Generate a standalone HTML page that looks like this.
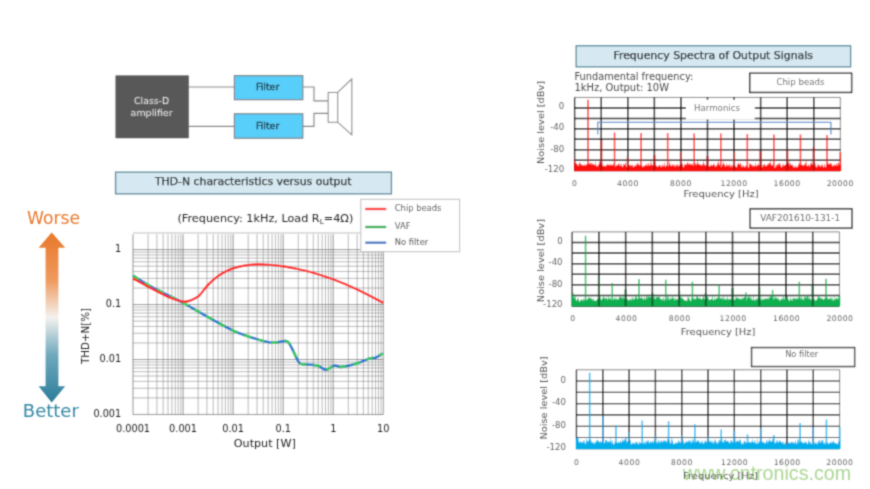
<!DOCTYPE html>
<html><head><meta charset="utf-8"><title>THD-N and frequency spectra</title>
<style>
html,body{margin:0;padding:0;background:#fff;}
body{width:870px;height:489px;overflow:hidden;}
svg{display:block;font-family:"DejaVu Sans", "Liberation Sans", sans-serif;}
</style></head><body>
<svg width="870" height="489" viewBox="0 0 870 489">
<defs>
<linearGradient id="ag" x1="0" y1="0" x2="0" y2="1">
<stop offset="0" stop-color="#e8772a"/><stop offset="0.28" stop-color="#ee9a5e"/><stop offset="0.5" stop-color="#f4f1ee"/><stop offset="0.72" stop-color="#6fa9bd"/><stop offset="1" stop-color="#2c7d99"/>
</linearGradient>
<filter id="bl" x="-2%" y="-2%" width="104%" height="104%"><feConvolveMatrix order="5" kernelMatrix="0.00003 0.00101 0.00331 0.00101 0.00003 0.00101 0.03529 0.11525 0.03529 0.00101 0.00331 0.11525 0.37636 0.11525 0.00331 0.00101 0.03529 0.11525 0.03529 0.00101 0.00003 0.00101 0.00331 0.00101 0.00003" edgeMode="duplicate" preserveAlpha="false"/></filter>
</defs>
<rect width="870" height="489" fill="#fff"/>
<g filter="url(#bl)">

<g id="block">
<path d="M188.5 87H234.5M188.5 126.3H234.5M302.8 87H314V100.8H328.2M302.8 126.3H314V113.3H328.2" fill="none" stroke="#8a8a8a" stroke-width="1.15"/>
<rect x="115.5" y="75.4" width="73.3" height="62.8" fill="#595959"/>
<rect x="234.4" y="75.7" width="68.4" height="24.0" fill="#58cefa" stroke="#7d7d7d" stroke-width="1.1"/>
<rect x="234.4" y="113.8" width="68.4" height="24.4" fill="#58cefa" stroke="#7d7d7d" stroke-width="1.1"/>
<path d="M328.2 92.4H337.7V122.2H328.2ZM337.7 92.4L351.8 79V134.8L337.7 122.2" fill="#fff" stroke="#858585" stroke-width="1.05"/>
<text x="151.6" y="103.6" font-size="8.8" fill="#e6e6e6" text-anchor="middle" textLength="35" lengthAdjust="spacingAndGlyphs">Class-D</text>
<text x="151.6" y="115.5" font-size="8.8" fill="#e6e6e6" text-anchor="middle" textLength="42" lengthAdjust="spacingAndGlyphs">amplifier</text>
<text x="267.6" y="90.3" font-size="8.9" fill="#1f2a30" text-anchor="middle" textLength="23.4" lengthAdjust="spacingAndGlyphs" stroke="#1f2a30" stroke-width="0.3">Filter</text>
<text x="267.6" y="128.5" font-size="8.9" fill="#1f2a30" text-anchor="middle" textLength="23.4" lengthAdjust="spacingAndGlyphs" stroke="#1f2a30" stroke-width="0.3">Filter</text>
</g>
<rect x="115.6" y="172.2" width="275.8" height="21.6" fill="#d6e9f2" stroke="#5a899b" stroke-width="1.3"/>
<text x="253.2" y="185.3" font-size="10.9" fill="#141414" text-anchor="middle" textLength="196.5" lengthAdjust="spacingAndGlyphs" stroke="#141414" stroke-width="0.25">THD-N characteristics versus output</text>
<text x="177.5" y="222.0" font-size="10.6" fill="#262626" textLength="175.8" lengthAdjust="spacingAndGlyphs">(Frequency: 1kHz, Load R<tspan font-size="7" dy="2">L</tspan><tspan dy="-2">=4Ω)</tspan></text>
<path d="M51.7 232.5L65.2 247.8H58.4V386.2H65.2L51.7 402.5L38.6 386.2H45.6V247.8H38.6Z" fill="url(#ag)"/>
<text x="53.6" y="223.6" font-size="17.4" fill="#e8792e" text-anchor="middle" textLength="53" lengthAdjust="spacingAndGlyphs">Worse</text>
<text x="50.8" y="417.4" font-size="17.4" fill="#3488a4" text-anchor="middle" textLength="56" lengthAdjust="spacingAndGlyphs">Better</text>
<g id="thd">
<rect x="133.0" y="234.30" width="250.30" height="180.15" fill="#fff"/>
<path d="M148.07 234.30V414.45M156.88 234.30V414.45M163.14 234.30V414.45M167.99 234.30V414.45M171.95 234.30V414.45M175.31 234.30V414.45M178.21 234.30V414.45M180.77 234.30V414.45M198.13 234.30V414.45M206.94 234.30V414.45M213.20 234.30V414.45M218.05 234.30V414.45M222.01 234.30V414.45M225.37 234.30V414.45M228.27 234.30V414.45M230.83 234.30V414.45M248.19 234.30V414.45M257.00 234.30V414.45M263.26 234.30V414.45M268.11 234.30V414.45M272.07 234.30V414.45M275.43 234.30V414.45M278.33 234.30V414.45M280.89 234.30V414.45M298.25 234.30V414.45M307.06 234.30V414.45M313.32 234.30V414.45M318.17 234.30V414.45M322.13 234.30V414.45M325.49 234.30V414.45M328.39 234.30V414.45M330.95 234.30V414.45M348.31 234.30V414.45M357.12 234.30V414.45M363.38 234.30V414.45M368.23 234.30V414.45M372.19 234.30V414.45M375.55 234.30V414.45M378.45 234.30V414.45M381.01 234.30V414.45M133.00 397.91H383.30M133.00 388.23H383.30M133.00 381.37H383.30M133.00 376.04H383.30M133.00 371.69H383.30M133.00 368.01H383.30M133.00 364.83H383.30M133.00 362.01H383.30M133.00 342.96H383.30M133.00 333.28H383.30M133.00 326.42H383.30M133.00 321.09H383.30M133.00 316.74H383.30M133.00 313.06H383.30M133.00 309.88H383.30M133.00 307.06H383.30M133.00 288.01H383.30M133.00 278.33H383.30M133.00 271.47H383.30M133.00 266.14H383.30M133.00 261.79H383.30M133.00 258.11H383.30M133.00 254.93H383.30M133.00 252.11H383.30M133.00 233.06H383.30" stroke="#848484" stroke-width="0.58" fill="none"/>
<path d="M133.00 234.30V414.45M183.06 234.30V414.45M233.12 234.30V414.45M283.18 234.30V414.45M333.24 234.30V414.45M383.30 234.30V414.45M133.00 414.45H383.30M133.00 359.50H383.30M133.00 304.55H383.30M133.00 249.60H383.30" stroke="#6a6a6a" stroke-width="0.75" fill="none"/>
<text x="121.2" y="251.7" font-size="9.7" fill="#1c1c1c" text-anchor="end">1</text>
<text x="121.2" y="306.65000000000003" font-size="9.7" fill="#1c1c1c" text-anchor="end">0.1</text>
<text x="121.2" y="361.6" font-size="9.7" fill="#1c1c1c" text-anchor="end">0.01</text>
<text x="121.2" y="416.55000000000007" font-size="9.7" fill="#1c1c1c" text-anchor="end">0.001</text>
<text x="133.0" y="432.2" font-size="9.75" fill="#1c1c1c" text-anchor="middle">0.0001</text>
<text x="183.06" y="432.2" font-size="9.75" fill="#1c1c1c" text-anchor="middle">0.001</text>
<text x="233.12" y="432.2" font-size="9.75" fill="#1c1c1c" text-anchor="middle">0.01</text>
<text x="283.18" y="432.2" font-size="9.75" fill="#1c1c1c" text-anchor="middle">0.1</text>
<text x="333.24" y="432.2" font-size="9.75" fill="#1c1c1c" text-anchor="middle">1</text>
<text x="383.3" y="432.2" font-size="9.75" fill="#1c1c1c" text-anchor="middle">10</text>
<text x="264.8" y="447.4" font-size="11" fill="#1c1c1c" text-anchor="middle" textLength="62" lengthAdjust="spacingAndGlyphs">Output [W]</text>
<text transform="translate(88.6 336) rotate(-90)" font-size="10.2" fill="#1c1c1c" text-anchor="middle" textLength="56" lengthAdjust="spacingAndGlyphs">THD+N[%]</text>
<path d="M133.02 275.64C136.21 277.55 143.85 282.59 152.14 287.11C160.42 291.63 174.04 298.12 182.73 302.75C191.41 307.39 195.88 310.28 204.28 314.92C212.68 319.55 224.64 326.61 233.12 330.56C241.61 334.51 248.62 336.59 255.17 338.62C261.72 340.65 267.24 342.36 272.41 342.76C277.59 343.16 283.05 340.29 286.21 341.03C289.37 341.78 289.20 343.62 291.38 347.24C293.56 350.86 296.72 359.89 299.31 362.76C301.90 365.63 303.91 364.02 306.90 364.48C309.89 364.94 314.08 364.66 317.24 365.52C320.40 366.38 322.99 369.66 325.86 369.66C328.74 369.66 331.90 365.98 334.48 365.52C337.07 365.06 337.64 367.24 341.38 366.90C345.11 366.55 352.30 364.83 356.90 363.45C361.49 362.07 365.80 359.60 368.97 358.62C372.13 357.64 373.56 358.45 375.86 357.59C378.16 356.72 381.61 354.14 382.76 353.45" fill="none" stroke="#1c78cf" stroke-width="2.5" stroke-linejoin="round"/>
<path d="M133.02 275.64C136.21 277.55 143.85 282.59 152.14 287.11C160.42 291.63 174.04 298.12 182.73 302.75C191.41 307.39 195.88 310.28 204.28 314.92C212.68 319.55 224.64 326.61 233.12 330.56C241.61 334.51 248.62 336.59 255.17 338.62C261.72 340.65 267.24 342.36 272.41 342.76C277.59 343.16 283.05 340.29 286.21 341.03C289.37 341.78 289.20 343.62 291.38 347.24C293.56 350.86 296.72 359.89 299.31 362.76C301.90 365.63 303.91 364.02 306.90 364.48C309.89 364.94 314.08 364.66 317.24 365.52C320.40 366.38 322.99 369.66 325.86 369.66C328.74 369.66 331.90 365.98 334.48 365.52C337.07 365.06 337.64 367.24 341.38 366.90C345.11 366.55 352.30 364.83 356.90 363.45C361.49 362.07 365.80 359.60 368.97 358.62C372.13 357.64 373.56 358.45 375.86 357.59C378.16 356.72 381.61 354.14 382.76 353.45" fill="none" stroke="#2bcb58" stroke-width="2.5" stroke-dasharray="7 7" stroke-linejoin="round"/>
<path d="M133.00 278.40C136.18 280.13 146.02 285.62 152.10 288.80C158.18 291.98 164.35 295.37 169.50 297.50C174.65 299.63 179.58 301.08 183.00 301.60C186.42 302.12 187.40 301.52 190.00 300.60C192.60 299.68 195.63 298.68 198.60 296.10C201.57 293.52 204.73 288.32 207.80 285.10C210.87 281.88 213.93 279.10 217.00 276.80C220.07 274.50 223.13 272.83 226.20 271.30C229.27 269.77 232.10 268.58 235.40 267.60C238.70 266.62 241.90 265.93 246.00 265.40C250.10 264.87 253.75 264.25 260.00 264.40C266.25 264.55 275.42 265.12 283.50 266.30C291.58 267.48 300.15 269.30 308.50 271.50C316.85 273.70 325.48 276.50 333.60 279.50C341.72 282.50 348.92 285.62 357.20 289.50C365.48 293.38 378.95 300.58 383.30 302.80" fill="none" stroke="#ff1414" stroke-width="2.25" stroke-linejoin="round"/>
</g>
<rect x="360.8" y="199.3" width="98.8" height="52.4" fill="#fff" stroke="#c4c4c4" stroke-width="1.1"/>
<path d="M365.3 209H386.2" stroke="#ff1010" stroke-width="2.3"/>
<text x="394.8" y="210.8" font-size="8.35" fill="#444" text-anchor="start">Chip beads</text>
<path d="M365.3 227H386.2" stroke="#16ad45" stroke-width="2.3"/>
<text x="394.8" y="228.7" font-size="8.35" fill="#444" text-anchor="start">VAF</text>
<path d="M365.3 242.7H386.2" stroke="#3f77c4" stroke-width="2.3"/>
<text x="394.8" y="244.6" font-size="8.35" fill="#444" text-anchor="start">No filter</text>
<rect x="576.2" y="45.8" width="274.4" height="21" fill="#d6e9f2" stroke="#5a899b" stroke-width="1.3"/>
<text x="713.2" y="58.9" font-size="10.9" fill="#141414" text-anchor="middle" textLength="199.5" lengthAdjust="spacingAndGlyphs" stroke="#141414" stroke-width="0.25">Frequency Spectra of Output Signals</text>
<text x="574.5" y="79.8" font-size="9.8" fill="#4a4a4a" text-anchor="start" textLength="118.8" lengthAdjust="spacingAndGlyphs">Fundamental frequency:</text>
<text x="574.5" y="91.4" font-size="9.8" fill="#4a4a4a" text-anchor="start" textLength="94.5" lengthAdjust="spacingAndGlyphs">1kHz, Output: 10W</text>
<rect x="574.7" y="97.5" width="265.60" height="73.20" fill="#fff"/>
<path d="M574.7 97.5H840.3V170.7" stroke="#7d7d7d" stroke-width="0.95" fill="none"/>
<path d="M574.7 97.5V170.7H840.3" stroke="#151515" stroke-width="1.25" fill="none"/>
<path d="M574.7 107.96H840.3M574.7 118.41H840.3M574.7 128.87H840.3M574.7 139.33H840.3M574.7 149.79H840.3M574.7 160.24H840.3" stroke="#0d0d0d" stroke-width="1.5" fill="none"/>
<path d="M601.26 97.5V170.7M627.82 97.5V170.7M654.38 97.5V170.7M680.94 97.5V170.7M707.50 97.5V170.7M734.06 97.5V170.7M760.62 97.5V170.7M787.18 97.5V170.7M813.74 97.5V170.7" stroke="#0d0d0d" stroke-width="1.5" fill="none"/>
<path d="M574.2 170.89999999999998L574.20 155.09L574.70 159.68L575.20 162.68L575.71 161.71L576.21 163.16L576.71 163.56L577.21 165.78L577.71 164.32L578.22 164.09L578.72 166.90L579.22 162.82L579.72 162.47L580.22 162.57L580.73 164.78L581.23 164.44L581.73 164.42L582.23 165.90L582.74 164.35L583.24 165.78L583.74 164.90L584.24 164.93L584.74 164.67L585.25 163.88L585.75 166.38L586.25 164.39L586.75 164.22L587.25 164.74L587.76 163.20L588.26 163.86L588.76 164.02L589.26 162.73L589.76 164.58L590.27 163.78L590.77 162.47L591.27 162.72L591.77 165.23L592.27 163.02L592.78 164.79L593.28 164.00L593.78 164.14L594.28 164.42L594.78 165.35L595.29 165.67L595.79 161.05L596.29 167.01L596.79 165.02L597.30 166.69L597.80 165.73L598.30 165.16L598.80 163.69L599.30 160.76L599.81 163.66L600.31 162.71L600.81 165.23L601.31 166.01L601.81 162.10L602.32 163.84L602.82 166.08L603.32 165.44L603.82 166.55L604.32 165.47L604.83 166.12L605.33 165.41L605.83 165.89L606.33 164.25L606.83 166.95L607.34 163.58L607.84 164.60L608.34 164.49L608.84 165.25L609.35 165.18L609.85 164.41L610.35 164.34L610.85 164.75L611.35 164.99L611.86 164.98L612.36 165.74L612.86 164.04L613.36 163.62L613.86 166.00L614.37 163.59L614.87 164.81L615.37 166.47L615.87 166.62L616.37 165.24L616.88 165.28L617.38 164.78L617.88 164.72L618.38 164.80L618.88 162.78L619.39 163.95L619.89 166.15L620.39 166.21L620.89 163.94L621.39 163.61L621.90 165.92L622.40 166.64L622.90 166.51L623.40 164.15L623.91 163.87L624.41 165.29L624.91 164.44L625.41 161.67L625.91 164.48L626.42 166.48L626.92 167.42L627.42 163.64L627.92 165.40L628.42 163.68L628.93 164.85L629.43 165.65L629.93 164.49L630.43 164.61L630.93 166.67L631.44 165.26L631.94 165.16L632.44 164.09L632.94 167.53L633.44 166.62L633.95 166.37L634.45 166.27L634.95 165.27L635.45 166.62L635.95 163.23L636.46 166.17L636.96 164.06L637.46 162.79L637.96 163.14L638.47 163.90L638.97 165.66L639.47 164.42L639.97 165.18L640.47 166.15L640.98 162.19L641.48 165.22L641.98 165.06L642.48 166.60L642.98 167.38L643.49 165.77L643.99 166.57L644.49 165.36L644.99 165.87L645.49 164.50L646.00 166.55L646.50 163.58L647.00 165.37L647.50 166.19L648.00 163.28L648.51 163.22L649.01 164.85L649.51 165.49L650.01 165.72L650.51 164.35L651.02 160.23L651.52 164.57L652.02 166.05L652.52 164.18L653.03 165.68L653.53 164.63L654.03 167.37L654.53 163.54L655.03 162.62L655.54 163.29L656.04 164.70L656.54 166.30L657.04 166.09L657.54 166.70L658.05 166.60L658.55 166.39L659.05 164.28L659.55 165.28L660.05 166.62L660.56 164.76L661.06 166.58L661.56 167.66L662.06 164.59L662.56 164.59L663.07 166.78L663.57 166.06L664.07 165.61L664.57 161.51L665.07 166.79L665.58 166.82L666.08 165.06L666.58 165.01L667.08 165.17L667.59 165.68L668.09 165.64L668.59 166.85L669.09 164.87L669.59 160.71L670.10 165.99L670.60 163.66L671.10 166.00L671.60 166.20L672.10 164.03L672.61 164.39L673.11 166.02L673.61 164.96L674.11 163.95L674.61 167.15L675.12 165.01L675.62 165.64L676.12 167.02L676.62 164.22L677.12 165.16L677.63 163.28L678.13 166.28L678.63 165.95L679.13 164.87L679.64 164.48L680.14 166.83L680.64 166.49L681.14 167.74L681.64 167.32L682.15 164.41L682.65 162.52L683.15 167.47L683.65 166.90L684.15 163.69L684.66 165.17L685.16 165.28L685.66 163.49L686.16 165.80L686.66 163.89L687.17 162.51L687.67 162.52L688.17 162.86L688.67 164.98L689.17 163.93L689.68 163.51L690.18 165.31L690.68 163.10L691.18 165.24L691.68 163.91L692.19 165.11L692.69 163.12L693.19 166.49L693.69 165.56L694.20 164.90L694.70 165.98L695.20 162.45L695.70 164.32L696.20 165.47L696.71 163.93L697.21 161.38L697.71 161.44L698.21 163.76L698.71 164.55L699.22 163.48L699.72 164.44L700.22 165.26L700.72 164.70L701.22 164.42L701.73 165.70L702.23 163.47L702.73 166.75L703.23 161.16L703.73 161.74L704.24 165.32L704.74 163.64L705.24 164.81L705.74 166.62L706.24 163.26L706.75 165.59L707.25 163.51L707.75 164.15L708.25 164.36L708.76 166.63L709.26 165.84L709.76 166.16L710.26 166.49L710.76 164.49L711.27 165.90L711.77 163.89L712.27 165.64L712.77 165.58L713.27 164.81L713.78 163.35L714.28 166.07L714.78 163.60L715.28 166.61L715.78 166.85L716.29 165.18L716.79 166.28L717.29 162.56L717.79 164.51L718.29 161.05L718.80 162.55L719.30 166.07L719.80 163.74L720.30 167.61L720.80 166.17L721.31 167.16L721.81 167.33L722.31 164.89L722.81 164.37L723.32 160.97L723.82 164.64L724.32 164.10L724.82 164.54L725.32 166.18L725.83 166.86L726.33 165.34L726.83 162.67L727.33 166.53L727.83 165.12L728.34 166.09L728.84 164.55L729.34 163.51L729.84 167.06L730.34 166.69L730.85 164.96L731.35 168.07L731.85 163.99L732.35 164.95L732.85 167.19L733.36 168.27L733.86 168.11L734.36 165.97L734.86 167.72L735.36 165.95L735.87 165.51L736.37 167.37L736.87 167.29L737.37 163.80L737.88 164.35L738.38 162.49L738.88 163.84L739.38 163.89L739.88 165.24L740.39 163.03L740.89 162.73L741.39 166.21L741.89 167.34L742.39 167.25L742.90 164.77L743.40 165.99L743.90 166.34L744.40 167.60L744.90 166.12L745.41 167.51L745.91 165.35L746.41 164.42L746.91 166.43L747.41 163.07L747.92 167.31L748.42 168.10L748.92 166.20L749.42 164.16L749.93 162.69L750.43 164.18L750.93 164.63L751.43 165.16L751.93 163.55L752.44 165.89L752.94 167.06L753.44 164.53L753.94 166.59L754.44 165.68L754.95 165.91L755.45 161.41L755.95 166.82L756.45 164.93L756.95 166.51L757.46 165.02L757.96 164.47L758.46 163.43L758.96 166.86L759.46 164.85L759.97 165.30L760.47 165.56L760.97 164.67L761.47 165.99L761.97 167.16L762.48 167.36L762.98 163.73L763.48 165.65L763.98 164.48L764.49 163.98L764.99 164.59L765.49 166.51L765.99 165.40L766.49 166.36L767.00 164.14L767.50 163.78L768.00 166.15L768.50 163.59L769.00 163.36L769.51 163.14L770.01 162.37L770.51 160.64L771.01 165.65L771.51 165.55L772.02 163.46L772.52 165.49L773.02 166.00L773.52 164.34L774.02 167.97L774.53 167.83L775.03 168.23L775.53 166.94L776.03 164.69L776.53 164.77L777.04 166.90L777.54 163.49L778.04 165.00L778.54 162.94L779.05 165.98L779.55 162.95L780.05 163.24L780.55 164.74L781.05 167.03L781.56 167.49L782.06 165.36L782.56 165.70L783.06 162.67L783.56 166.39L784.07 165.52L784.57 165.23L785.07 165.05L785.57 163.64L786.07 166.38L786.58 163.33L787.08 165.79L787.58 163.44L788.08 162.50L788.58 163.95L789.09 159.62L789.59 165.57L790.09 165.21L790.59 163.01L791.09 164.38L791.60 165.21L792.10 165.05L792.60 164.52L793.10 165.83L793.61 167.34L794.11 167.16L794.61 167.75L795.11 164.47L795.61 166.89L796.12 166.60L796.62 167.90L797.12 166.03L797.62 167.22L798.12 165.51L798.63 163.15L799.13 166.04L799.63 162.61L800.13 163.51L800.63 163.69L801.14 164.65L801.64 164.44L802.14 165.78L802.64 164.42L803.14 165.05L803.65 165.79L804.15 165.28L804.65 163.61L805.15 164.91L805.65 162.58L806.16 160.54L806.66 165.90L807.16 165.48L807.66 166.16L808.17 164.91L808.67 163.95L809.17 165.24L809.67 167.07L810.17 164.17L810.68 164.04L811.18 161.30L811.68 163.64L812.18 164.28L812.68 164.68L813.19 165.81L813.69 163.85L814.19 164.03L814.69 166.89L815.19 161.99L815.70 165.88L816.20 167.50L816.70 165.95L817.20 167.81L817.70 163.15L818.21 164.55L818.71 166.29L819.21 164.37L819.71 165.66L820.22 165.73L820.72 167.25L821.22 165.27L821.72 164.59L822.22 164.16L822.73 166.27L823.23 167.07L823.73 167.63L824.23 162.92L824.73 165.41L825.24 167.30L825.74 166.81L826.24 163.77L826.74 164.55L827.24 160.93L827.75 164.10L828.25 163.45L828.75 163.92L829.25 163.28L829.75 164.91L830.26 162.53L830.76 164.05L831.26 163.51L831.76 163.62L832.26 165.38L832.77 166.16L833.27 165.56L833.77 165.66L834.27 163.19L834.78 166.07L835.28 164.73L835.78 165.73L836.28 162.85L836.78 165.90L837.29 166.01L837.79 162.89L838.29 163.59L838.79 162.06L839.29 165.73L839.80 164.61L840.30 164.34L840.80 164.96L840.8 170.89999999999998Z" fill="#ff0a0a"/>
<path d="M587.98 170.7V99.80M614.54 170.7V132.50M641.10 170.7V133.00M667.66 170.7V133.00M694.22 170.7V133.50M720.78 170.7V133.50M747.34 170.7V134.00M773.90 170.7V134.50M800.46 170.7V134.50M827.02 170.7V135.00M840.30 170.7V152.00" stroke="#ff0a0a" stroke-width="1.55" fill="none" stroke-opacity="0.85"/>
<path d="M601.26 170.7V140.00M627.82 170.7V157.00M654.38 170.7V155.00M680.94 170.7V152.00M707.50 170.7V156.00M734.06 170.7V152.00M760.62 170.7V151.00M787.18 170.7V150.00M813.74 170.7V147.00" stroke="#b80808" stroke-width="2.1" fill="none" stroke-opacity="0.9"/>
<rect x="685.8" y="99.7" width="69" height="19.9" fill="#fff"/>
<text x="717" y="111.4" font-size="8.6" fill="#666" text-anchor="middle" textLength="46" lengthAdjust="spacingAndGlyphs">Harmonics</text>
<path d="M597.7 134.5V122.3H830.9V134.5" fill="none" stroke="#5b90cf" stroke-width="1.25"/>
<rect x="749.8" y="73.3" width="101.8" height="19.1" fill="#fff" stroke="#2b2b2b" stroke-width="1.4"/>
<text x="800.4" y="84.8" font-size="8.6" fill="#666" text-anchor="middle" textLength="48" lengthAdjust="spacingAndGlyphs">Chip beads</text>
<text x="564.2" y="108.6" font-size="8.6" fill="#666" text-anchor="end">0</text>
<text x="564.2" y="130.1" font-size="8.6" fill="#666" text-anchor="end">-40</text>
<text x="564.2" y="151.5" font-size="8.6" fill="#666" text-anchor="end">-80</text>
<text x="564.2" y="172.2" font-size="8.6" fill="#666" text-anchor="end">-120</text>
<text x="574.5" y="186.0" font-size="7.7" fill="#666" text-anchor="middle">0</text>
<text x="627.6" y="186.0" font-size="7.7" fill="#666" text-anchor="middle" textLength="21.4" lengthAdjust="spacing">4000</text>
<text x="680.7" y="186.0" font-size="7.7" fill="#666" text-anchor="middle" textLength="21.4" lengthAdjust="spacing">8000</text>
<text x="733.8" y="186.0" font-size="7.7" fill="#666" text-anchor="middle" textLength="26.6" lengthAdjust="spacing">12000</text>
<text x="786.9" y="186.0" font-size="7.7" fill="#666" text-anchor="middle" textLength="26.6" lengthAdjust="spacing">16000</text>
<text x="840.0" y="186.0" font-size="7.7" fill="#666" text-anchor="middle" textLength="26.6" lengthAdjust="spacing">20000</text>
<text x="721" y="196.8" font-size="9.5" fill="#555" text-anchor="middle" textLength="75.2" lengthAdjust="spacingAndGlyphs">Frequency [Hz]</text>
<text transform="translate(544.4 122.4) rotate(-90)" font-size="8.7" fill="#555" text-anchor="middle" textLength="83.2" lengthAdjust="spacingAndGlyphs">Noise level [dBv]</text>
<rect x="572.2" y="231.9" width="267.20" height="74.10" fill="#fff"/>
<path d="M572.2 231.9H839.4V306.0" stroke="#7d7d7d" stroke-width="0.95" fill="none"/>
<path d="M572.2 231.9V306.0H839.4" stroke="#151515" stroke-width="1.25" fill="none"/>
<path d="M572.2 242.49H839.4M572.2 253.07H839.4M572.2 263.66H839.4M572.2 274.24H839.4M572.2 284.83H839.4M572.2 295.41H839.4" stroke="#0d0d0d" stroke-width="1.5" fill="none"/>
<path d="M598.92 231.9V306.0M625.64 231.9V306.0M652.36 231.9V306.0M679.08 231.9V306.0M705.80 231.9V306.0M732.52 231.9V306.0M759.24 231.9V306.0M785.96 231.9V306.0M812.68 231.9V306.0" stroke="#0d0d0d" stroke-width="1.5" fill="none"/>
<path d="M571.7 306.2L571.70 293.66L572.20 293.38L572.70 296.41L573.21 291.53L573.71 297.11L574.21 296.60L574.71 299.55L575.22 295.26L575.72 297.70L576.22 300.87L576.72 300.47L577.22 300.10L577.73 298.08L578.23 298.31L578.73 298.94L579.23 301.76L579.74 301.73L580.24 299.89L580.74 299.92L581.24 299.54L581.74 299.35L582.25 301.53L582.75 299.65L583.25 297.96L583.75 300.57L584.26 299.01L584.76 300.70L585.26 300.35L585.76 299.26L586.27 299.01L586.77 301.00L587.27 298.76L587.77 299.76L588.27 296.88L588.78 297.43L589.28 297.87L589.78 298.20L590.28 297.22L590.79 298.93L591.29 297.61L591.79 299.82L592.29 300.43L592.79 298.83L593.30 297.67L593.80 300.88L594.30 300.13L594.80 300.49L595.31 300.89L595.81 300.65L596.31 300.36L596.81 300.28L597.31 297.78L597.82 299.26L598.32 298.27L598.82 297.30L599.32 296.51L599.83 298.74L600.33 295.94L600.83 299.21L601.33 300.13L601.83 299.15L602.34 298.69L602.84 297.71L603.34 295.65L603.84 296.95L604.35 297.56L604.85 299.63L605.35 297.68L605.85 298.71L606.36 296.91L606.86 298.71L607.36 300.44L607.86 298.19L608.36 294.10L608.87 299.03L609.37 298.99L609.87 297.90L610.37 297.22L610.88 300.03L611.38 300.12L611.88 298.82L612.38 300.45L612.88 298.38L613.39 300.72L613.89 298.13L614.39 297.50L614.89 298.77L615.40 300.10L615.90 297.12L616.40 298.15L616.90 300.14L617.40 297.89L617.91 300.46L618.41 298.73L618.91 298.64L619.41 295.76L619.92 296.81L620.42 297.03L620.92 297.88L621.42 297.31L621.92 296.29L622.43 297.85L622.93 299.63L623.43 296.25L623.93 297.89L624.44 299.01L624.94 298.15L625.44 297.80L625.94 299.65L626.44 297.76L626.95 297.14L627.45 299.86L627.95 298.55L628.45 301.26L628.96 299.85L629.46 299.86L629.96 298.45L630.46 298.99L630.97 300.92L631.47 297.30L631.97 301.41L632.47 296.88L632.97 297.92L633.48 300.52L633.98 297.07L634.48 299.86L634.98 298.40L635.49 296.92L635.99 294.48L636.49 294.47L636.99 300.02L637.49 297.92L638.00 298.90L638.50 299.30L639.00 295.67L639.50 297.41L640.01 298.50L640.51 298.41L641.01 296.99L641.51 297.16L642.01 298.39L642.52 297.50L643.02 299.66L643.52 299.78L644.02 297.54L644.53 297.35L645.03 299.10L645.53 299.99L646.03 297.62L646.53 296.26L647.04 296.14L647.54 299.59L648.04 293.25L648.54 298.36L649.05 296.26L649.55 297.04L650.05 296.90L650.55 297.34L651.06 296.89L651.56 299.26L652.06 298.80L652.56 299.51L653.06 300.10L653.57 297.55L654.07 294.80L654.57 298.88L655.07 296.72L655.58 299.90L656.08 297.82L656.58 296.54L657.08 296.77L657.58 297.66L658.09 296.75L658.59 297.24L659.09 297.28L659.59 295.02L660.10 298.26L660.60 299.84L661.10 299.33L661.60 298.28L662.10 299.29L662.61 300.95L663.11 296.88L663.61 298.32L664.11 301.76L664.62 299.13L665.12 298.97L665.62 300.42L666.12 298.30L666.62 300.78L667.13 298.54L667.63 293.57L668.13 295.36L668.63 300.50L669.14 296.66L669.64 300.73L670.14 299.18L670.64 298.01L671.14 298.33L671.65 299.51L672.15 294.49L672.65 298.25L673.15 298.94L673.66 297.51L674.16 297.42L674.66 300.66L675.16 300.46L675.67 297.25L676.17 299.14L676.67 298.77L677.17 300.19L677.67 298.36L678.18 300.18L678.68 297.20L679.18 296.88L679.68 299.53L680.19 294.65L680.69 296.78L681.19 299.02L681.69 297.33L682.19 297.60L682.70 298.84L683.20 298.43L683.70 299.16L684.20 300.00L684.71 300.27L685.21 299.85L685.71 300.69L686.21 301.12L686.71 300.25L687.22 300.80L687.72 296.42L688.22 298.90L688.72 296.08L689.23 298.68L689.73 298.59L690.23 301.40L690.73 300.41L691.23 299.66L691.74 296.57L692.24 301.15L692.74 298.04L693.24 298.08L693.75 298.89L694.25 297.86L694.75 300.20L695.25 298.07L695.76 299.40L696.26 298.51L696.76 295.65L697.26 294.66L697.76 296.64L698.27 298.42L698.77 297.99L699.27 297.45L699.77 298.48L700.28 299.13L700.78 297.49L701.28 299.86L701.78 299.34L702.28 297.58L702.79 299.25L703.29 296.14L703.79 296.37L704.29 299.49L704.80 299.05L705.30 298.57L705.80 298.30L706.30 294.78L706.80 298.09L707.31 297.29L707.81 295.98L708.31 297.47L708.81 298.82L709.32 300.01L709.82 299.88L710.32 299.00L710.82 299.63L711.32 298.96L711.83 298.81L712.33 295.00L712.83 299.30L713.33 299.95L713.84 300.53L714.34 296.43L714.84 299.00L715.34 299.63L715.84 299.14L716.35 297.99L716.85 297.92L717.35 297.13L717.85 298.61L718.36 296.79L718.86 297.77L719.36 300.87L719.86 299.61L720.37 297.49L720.87 299.08L721.37 298.23L721.87 297.46L722.37 297.52L722.88 299.97L723.38 298.92L723.88 294.69L724.38 299.67L724.89 299.26L725.39 298.06L725.89 300.15L726.39 297.94L726.89 300.84L727.40 294.78L727.90 299.86L728.40 298.47L728.90 300.10L729.41 297.81L729.91 300.54L730.41 298.38L730.91 299.51L731.41 297.74L731.92 300.06L732.42 297.10L732.92 295.44L733.42 295.95L733.93 299.36L734.43 299.56L734.93 300.10L735.43 299.00L735.93 295.41L736.44 297.51L736.94 298.57L737.44 297.44L737.94 299.07L738.45 297.50L738.95 298.60L739.45 299.17L739.95 298.00L740.46 300.25L740.96 297.61L741.46 298.25L741.96 300.17L742.46 297.44L742.97 298.75L743.47 297.99L743.97 297.46L744.47 296.23L744.98 297.87L745.48 297.63L745.98 298.11L746.48 301.98L746.98 299.23L747.49 297.67L747.99 297.03L748.49 295.89L748.99 297.86L749.50 295.74L750.00 299.77L750.50 296.07L751.00 300.33L751.50 296.61L752.01 300.27L752.51 299.86L753.01 300.11L753.51 294.73L754.02 299.28L754.52 300.93L755.02 299.23L755.52 300.75L756.02 298.02L756.53 298.73L757.03 300.60L757.53 298.01L758.03 297.84L758.54 298.25L759.04 296.64L759.54 296.60L760.04 300.15L760.54 294.59L761.05 301.06L761.55 298.18L762.05 301.05L762.55 297.40L763.06 298.77L763.56 299.86L764.06 299.76L764.56 298.57L765.07 297.66L765.57 299.25L766.07 298.27L766.57 299.19L767.07 297.95L767.58 298.13L768.08 299.71L768.58 298.49L769.08 296.40L769.59 297.75L770.09 298.25L770.59 295.84L771.09 295.79L771.59 294.91L772.10 297.43L772.60 299.30L773.10 297.77L773.60 299.38L774.11 299.63L774.61 296.49L775.11 296.20L775.61 298.83L776.11 297.53L776.62 297.24L777.12 299.64L777.62 298.11L778.12 299.28L778.63 297.51L779.13 299.08L779.63 301.86L780.13 298.83L780.63 300.32L781.14 300.33L781.64 298.28L782.14 297.40L782.64 299.53L783.15 299.85L783.65 294.15L784.15 297.44L784.65 300.29L785.16 298.04L785.66 298.02L786.16 300.02L786.66 298.58L787.16 295.36L787.67 295.81L788.17 300.47L788.67 298.04L789.17 301.31L789.68 300.97L790.18 296.18L790.68 300.05L791.18 299.86L791.68 298.89L792.19 301.48L792.69 297.88L793.19 297.58L793.69 299.44L794.20 297.44L794.70 298.41L795.20 298.24L795.70 300.06L796.20 297.55L796.71 298.60L797.21 298.68L797.71 298.16L798.21 299.86L798.72 297.09L799.22 298.14L799.72 297.85L800.22 299.39L800.72 297.42L801.23 295.62L801.73 300.47L802.23 297.48L802.73 298.90L803.24 300.33L803.74 299.21L804.24 294.77L804.74 298.64L805.24 296.99L805.75 297.16L806.25 299.25L806.75 295.52L807.25 294.41L807.76 295.04L808.26 300.35L808.76 295.77L809.26 297.72L809.77 297.87L810.27 299.68L810.77 298.65L811.27 301.40L811.77 298.45L812.28 301.23L812.78 300.14L813.28 298.97L813.78 299.79L814.29 297.96L814.79 299.60L815.29 301.39L815.79 299.79L816.29 300.38L816.80 298.96L817.30 299.12L817.80 297.20L818.30 295.40L818.81 296.22L819.31 296.44L819.81 298.90L820.31 297.51L820.81 297.68L821.32 298.65L821.82 298.26L822.32 298.17L822.82 298.63L823.33 299.44L823.83 299.99L824.33 297.31L824.83 299.26L825.33 297.58L825.84 299.86L826.34 298.72L826.84 295.72L827.34 297.60L827.85 299.07L828.35 299.87L828.85 298.05L829.35 298.81L829.86 299.35L830.36 297.69L830.86 297.19L831.36 300.33L831.86 297.62L832.37 297.55L832.87 301.52L833.37 298.78L833.87 300.53L834.38 300.25L834.88 295.74L835.38 299.50L835.88 298.95L836.38 297.93L836.89 297.94L837.39 299.69L837.89 297.65L838.39 300.52L838.90 294.69L839.40 298.16L839.90 299.71L839.9 306.2Z" fill="#0aaf50"/>
<path d="M585.56 306.0V235.80M612.28 306.0V283.00M639.00 306.0V279.00M665.72 306.0V279.70M692.44 306.0V281.80M719.16 306.0V285.00M745.88 306.0V292.50M772.60 306.0V290.00M799.32 306.0V281.80M826.04 306.0V278.70M839.40 306.0V296.00" stroke="#0aaf50" stroke-width="1.55" fill="none" stroke-opacity="0.85"/>
<path d="M598.92 306.0V275.40M625.64 306.0V289.50M652.36 306.0V293.00M679.08 306.0V291.00M705.80 306.0V293.00M732.52 306.0V288.00M759.24 306.0V287.00M812.68 306.0V285.00" stroke="#0b5a2c" stroke-width="2.1" fill="none" stroke-opacity="0.9"/>
<rect x="750.2" y="208.9" width="101.7" height="19.1" fill="#fff" stroke="#2b2b2b" stroke-width="1.4"/>
<text x="800.2" y="220.6" font-size="8.9" fill="#555" text-anchor="middle" textLength="80" lengthAdjust="spacingAndGlyphs">VAF201610-131-1</text>
<text x="562.6" y="244.2" font-size="8.6" fill="#666" text-anchor="end">0</text>
<text x="562.6" y="265.1" font-size="8.6" fill="#666" text-anchor="end">-40</text>
<text x="562.6" y="286.9" font-size="8.6" fill="#666" text-anchor="end">-80</text>
<text x="562.6" y="307.4" font-size="8.6" fill="#666" text-anchor="end">-120</text>
<text x="572.7" y="320.8" font-size="7.7" fill="#666" text-anchor="middle">0</text>
<text x="626.1" y="320.8" font-size="7.7" fill="#666" text-anchor="middle" textLength="21.4" lengthAdjust="spacing">4000</text>
<text x="679.5" y="320.8" font-size="7.7" fill="#666" text-anchor="middle" textLength="21.4" lengthAdjust="spacing">8000</text>
<text x="732.9" y="320.8" font-size="7.7" fill="#666" text-anchor="middle" textLength="26.6" lengthAdjust="spacing">12000</text>
<text x="786.3" y="320.8" font-size="7.7" fill="#666" text-anchor="middle" textLength="26.6" lengthAdjust="spacing">16000</text>
<text x="839.7" y="320.8" font-size="7.7" fill="#666" text-anchor="middle" textLength="26.6" lengthAdjust="spacing">20000</text>
<text x="718" y="334.6" font-size="9.5" fill="#555" text-anchor="middle" textLength="74.5" lengthAdjust="spacingAndGlyphs">Frequency [Hz]</text>
<text transform="translate(543.6 260.6) rotate(-90)" font-size="8.7" fill="#555" text-anchor="middle" textLength="83.2" lengthAdjust="spacingAndGlyphs">Noise level [dBv]</text>
<rect x="576.5" y="369.8" width="263.10" height="78.90" fill="#fff"/>
<path d="M576.5 369.8H839.6V448.7" stroke="#7d7d7d" stroke-width="0.95" fill="none"/>
<path d="M576.5 369.8V448.7H839.6" stroke="#151515" stroke-width="1.25" fill="none"/>
<path d="M576.5 381.07H839.6M576.5 392.34H839.6M576.5 403.61H839.6M576.5 414.89H839.6M576.5 426.16H839.6M576.5 437.43H839.6" stroke="#0d0d0d" stroke-width="1.05" fill="none"/>
<path d="M602.81 369.8V448.7M629.12 369.8V448.7M655.43 369.8V448.7M681.74 369.8V448.7M708.05 369.8V448.7M734.36 369.8V448.7M760.67 369.8V448.7M786.98 369.8V448.7M813.29 369.8V448.7" stroke="#0d0d0d" stroke-width="1.35" fill="none"/>
<path d="M576.0 448.9L576.00 438.62L576.50 437.76L577.00 438.36L577.51 437.53L578.01 438.15L578.51 438.41L579.01 442.02L579.51 442.14L580.02 442.74L580.52 440.67L581.02 441.23L581.52 442.92L582.03 442.06L582.53 443.06L583.03 440.29L583.53 441.08L584.03 444.57L584.54 439.17L585.04 442.87L585.54 444.75L586.04 441.16L586.54 438.16L587.05 440.17L587.55 442.23L588.05 440.61L588.55 439.99L589.05 442.56L589.56 440.09L590.06 442.04L590.56 439.59L591.06 439.42L591.56 442.36L592.07 442.26L592.57 442.80L593.07 443.18L593.57 441.38L594.08 444.90L594.58 443.12L595.08 441.49L595.58 442.49L596.08 442.85L596.59 440.07L597.09 441.08L597.59 439.29L598.09 441.18L598.59 440.83L599.10 442.98L599.60 441.06L600.10 442.93L600.60 440.28L601.10 442.97L601.61 440.88L602.11 442.48L602.61 440.78L603.11 442.01L603.62 440.49L604.12 442.51L604.62 443.80L605.12 440.12L605.62 440.36L606.13 439.96L606.63 439.78L607.13 443.16L607.63 441.10L608.13 441.62L608.64 441.38L609.14 441.01L609.64 442.25L610.14 442.08L610.64 437.49L611.15 440.87L611.65 444.11L612.15 439.74L612.65 441.99L613.15 444.52L613.66 444.12L614.16 443.91L614.66 442.02L615.16 441.24L615.67 442.31L616.17 443.78L616.67 441.45L617.17 442.55L617.67 443.08L618.18 441.71L618.68 442.01L619.18 442.61L619.68 443.02L620.18 440.54L620.69 441.07L621.19 441.87L621.69 442.99L622.19 440.40L622.69 438.32L623.20 441.48L623.70 440.95L624.20 438.79L624.70 440.77L625.20 436.55L625.71 439.72L626.21 436.99L626.71 443.32L627.21 440.93L627.72 441.53L628.22 442.42L628.72 440.96L629.22 441.58L629.72 442.63L630.23 439.77L630.73 440.68L631.23 444.15L631.73 444.50L632.23 442.20L632.74 443.08L633.24 442.41L633.74 444.28L634.24 443.56L634.74 442.82L635.25 443.96L635.75 441.16L636.25 441.46L636.75 444.23L637.26 441.59L637.76 442.52L638.26 444.85L638.76 443.82L639.26 441.35L639.77 442.50L640.27 443.24L640.77 442.77L641.27 441.99L641.77 443.73L642.28 443.88L642.78 442.33L643.28 442.52L643.78 444.37L644.28 440.95L644.79 443.15L645.29 444.29L645.79 441.27L646.29 440.62L646.79 443.24L647.30 441.84L647.80 440.20L648.30 440.14L648.80 441.49L649.31 442.82L649.81 443.21L650.31 441.17L650.81 441.32L651.31 441.74L651.82 443.33L652.32 440.56L652.82 442.38L653.32 442.91L653.82 440.14L654.33 441.08L654.83 442.09L655.33 439.27L655.83 441.40L656.33 441.82L656.84 443.45L657.34 442.43L657.84 442.12L658.34 439.90L658.85 439.87L659.35 443.74L659.85 441.72L660.35 440.04L660.85 442.82L661.36 440.14L661.86 441.74L662.36 441.04L662.86 442.97L663.36 441.34L663.87 439.54L664.37 440.70L664.87 440.68L665.37 441.72L665.87 440.12L666.38 442.99L666.88 440.64L667.38 438.10L667.88 441.31L668.38 440.41L668.89 442.79L669.39 438.92L669.89 441.20L670.39 443.50L670.90 443.56L671.40 439.89L671.90 437.18L672.40 440.61L672.90 441.54L673.41 444.07L673.91 443.96L674.41 443.33L674.91 443.88L675.41 441.98L675.92 443.49L676.42 443.61L676.92 441.64L677.42 443.16L677.92 442.19L678.43 439.16L678.93 442.95L679.43 440.50L679.93 442.80L680.43 441.39L680.94 443.83L681.44 445.07L681.94 441.45L682.44 440.71L682.95 444.12L683.45 438.81L683.95 443.38L684.45 443.41L684.95 442.48L685.46 441.30L685.96 443.03L686.46 441.82L686.96 440.87L687.46 442.79L687.97 440.38L688.47 441.90L688.97 439.93L689.47 441.57L689.97 439.79L690.48 443.33L690.98 439.33L691.48 443.56L691.98 442.11L692.49 440.49L692.99 437.63L693.49 440.75L693.99 443.35L694.49 441.42L695.00 442.53L695.50 442.47L696.00 441.46L696.50 441.95L697.00 440.29L697.51 440.50L698.01 442.52L698.51 439.94L699.01 440.55L699.51 442.54L700.02 441.93L700.52 443.80L701.02 442.14L701.52 442.44L702.02 439.35L702.53 443.27L703.03 441.97L703.53 444.26L704.03 442.87L704.54 442.35L705.04 439.98L705.54 440.43L706.04 442.80L706.54 440.73L707.05 443.50L707.55 437.62L708.05 440.94L708.55 443.34L709.05 442.31L709.56 441.34L710.06 440.62L710.56 440.84L711.06 443.10L711.56 441.93L712.07 439.62L712.57 443.22L713.07 442.05L713.57 443.89L714.08 441.05L714.58 440.68L715.08 438.76L715.58 440.90L716.08 444.33L716.59 441.36L717.09 442.03L717.59 443.94L718.09 442.83L718.59 441.65L719.10 439.40L719.60 440.37L720.10 440.65L720.60 440.70L721.10 442.61L721.61 440.50L722.11 437.05L722.61 442.61L723.11 441.93L723.61 442.73L724.12 439.85L724.62 440.85L725.12 438.69L725.62 439.81L726.13 441.97L726.63 440.56L727.13 441.26L727.63 440.48L728.13 441.64L728.64 440.92L729.14 442.14L729.64 443.41L730.14 442.71L730.64 440.58L731.15 440.10L731.65 440.79L732.15 440.98L732.65 442.92L733.15 441.67L733.66 441.21L734.16 438.24L734.66 439.45L735.16 438.22L735.67 443.17L736.17 440.91L736.67 442.27L737.17 440.57L737.67 440.16L738.18 441.24L738.68 441.44L739.18 442.12L739.68 438.86L740.18 440.05L740.69 440.02L741.19 441.92L741.69 444.43L742.19 442.67L742.69 443.92L743.20 444.55L743.70 441.96L744.20 440.47L744.70 440.67L745.20 441.56L745.71 442.64L746.21 442.05L746.71 443.77L747.21 441.58L747.72 444.00L748.22 441.58L748.72 442.00L749.22 442.26L749.72 442.06L750.23 441.92L750.73 442.89L751.23 440.76L751.73 443.53L752.23 438.08L752.74 442.07L753.24 442.22L753.74 441.66L754.24 443.14L754.74 440.24L755.25 440.02L755.75 443.94L756.25 443.36L756.75 443.17L757.25 444.16L757.76 437.57L758.26 443.12L758.76 443.02L759.26 441.14L759.77 440.81L760.27 442.29L760.77 438.10L761.27 440.97L761.77 440.42L762.28 442.31L762.78 442.09L763.28 441.24L763.78 441.95L764.28 443.33L764.79 443.40L765.29 441.64L765.79 443.54L766.29 441.62L766.79 439.52L767.30 444.23L767.80 439.98L768.30 440.48L768.80 442.12L769.31 441.57L769.81 437.71L770.31 441.65L770.81 440.21L771.31 442.37L771.82 440.86L772.32 437.49L772.82 441.82L773.32 441.57L773.82 441.37L774.33 444.20L774.83 441.15L775.33 443.42L775.83 442.85L776.33 440.86L776.84 440.78L777.34 439.45L777.84 443.15L778.34 441.47L778.84 443.00L779.35 440.00L779.85 440.99L780.35 440.47L780.85 442.09L781.36 442.04L781.86 442.70L782.36 443.55L782.86 441.14L783.36 441.75L783.87 444.68L784.37 444.06L784.87 442.53L785.37 444.61L785.87 440.43L786.38 445.43L786.88 444.13L787.38 445.07L787.88 441.18L788.38 443.19L788.89 442.46L789.39 442.45L789.89 443.19L790.39 442.70L790.90 442.87L791.40 442.12L791.90 441.20L792.40 443.52L792.90 441.19L793.41 443.57L793.91 441.74L794.41 444.09L794.91 441.94L795.41 440.10L795.92 442.25L796.42 444.36L796.92 443.20L797.42 438.53L797.92 443.75L798.43 440.43L798.93 438.21L799.43 443.11L799.93 443.61L800.43 441.36L800.94 442.12L801.44 441.06L801.94 442.17L802.44 441.91L802.95 442.72L803.45 443.15L803.95 442.92L804.45 442.82L804.95 440.59L805.46 443.18L805.96 441.53L806.46 442.27L806.96 443.40L807.46 443.80L807.97 443.63L808.47 438.60L808.97 442.56L809.47 441.83L809.97 440.95L810.48 442.76L810.98 444.15L811.48 443.76L811.98 442.75L812.48 441.66L812.99 444.09L813.49 443.80L813.99 442.91L814.49 444.54L815.00 441.07L815.50 443.20L816.00 442.54L816.50 443.36L817.00 444.55L817.51 443.44L818.01 440.86L818.51 442.91L819.01 440.07L819.51 440.27L820.02 441.29L820.52 443.07L821.02 442.54L821.52 439.76L822.02 440.24L822.53 441.08L823.03 439.36L823.53 443.87L824.03 443.04L824.54 442.48L825.04 444.43L825.54 444.20L826.04 439.86L826.54 441.47L827.05 442.91L827.55 441.79L828.05 444.44L828.55 443.32L829.05 443.12L829.56 443.27L830.06 442.88L830.56 442.59L831.06 440.59L831.56 444.00L832.07 441.87L832.57 442.66L833.07 441.48L833.57 440.33L834.07 441.82L834.58 443.59L835.08 442.13L835.58 443.61L836.08 443.74L836.59 443.36L837.09 443.39L837.59 444.16L838.09 442.84L838.59 440.00L839.10 442.44L839.60 442.65L840.10 441.16L840.1 448.9Z" fill="#06aeec"/>
<path d="M589.65 448.7V372.70M602.81 448.7V415.40M615.97 448.7V425.60M629.12 448.7V432.00M642.27 448.7V420.50M655.43 448.7V436.00M668.59 448.7V421.20M681.74 448.7V435.00M694.89 448.7V424.30M708.05 448.7V436.00M721.21 448.7V429.40M734.36 448.7V430.70M747.51 448.7V434.50M760.67 448.7V428.00M773.83 448.7V435.00M800.13 448.7V423.00M813.29 448.7V427.00M826.44 448.7V419.50M839.60 448.7V427.00" stroke="#06aeec" stroke-width="1.55" fill="none" stroke-opacity="0.85"/>
<rect x="751.6" y="347.6" width="103" height="18.9" fill="#fff" stroke="#3c3c3c" stroke-width="1.4"/>
<text x="801.7" y="357.4" font-size="8.3" fill="#555" text-anchor="middle" textLength="33" lengthAdjust="spacingAndGlyphs">No filter</text>
<text x="566" y="382.6" font-size="8.6" fill="#666" text-anchor="end">0</text>
<text x="566" y="404.6" font-size="8.6" fill="#666" text-anchor="end">-40</text>
<text x="566" y="428.2" font-size="8.6" fill="#666" text-anchor="end">-80</text>
<text x="566" y="450.0" font-size="8.6" fill="#666" text-anchor="end">-120</text>
<text x="576.5" y="464.7" font-size="7.7" fill="#666" text-anchor="middle">0</text>
<text x="629.12" y="464.7" font-size="7.7" fill="#666" text-anchor="middle" textLength="21.4" lengthAdjust="spacing">4000</text>
<text x="681.74" y="464.7" font-size="7.7" fill="#666" text-anchor="middle" textLength="21.4" lengthAdjust="spacing">8000</text>
<text x="734.36" y="464.7" font-size="7.7" fill="#666" text-anchor="middle" textLength="26.6" lengthAdjust="spacing">12000</text>
<text x="786.98" y="464.7" font-size="7.7" fill="#666" text-anchor="middle" textLength="26.6" lengthAdjust="spacing">16000</text>
<text x="839.6" y="464.7" font-size="7.7" fill="#666" text-anchor="middle" textLength="26.6" lengthAdjust="spacing">20000</text>
<text x="683" y="479.8" font-size="19.6" fill="#8cc66a" text-anchor="start" textLength="168" lengthAdjust="spacingAndGlyphs" fill-opacity="0.72" font-family="Liberation Sans, Arial, sans-serif">www.cntronics.com</text>
<text x="720.4" y="478.5" font-size="9.5" fill="#5a5a5a" text-anchor="middle" textLength="75" lengthAdjust="spacingAndGlyphs">Frequency [Hz]</text>
<text transform="translate(546.6 398) rotate(-90)" font-size="8.7" fill="#555" text-anchor="middle" textLength="83.2" lengthAdjust="spacingAndGlyphs">Noise level [dBv]</text>
</g></svg></body></html>
